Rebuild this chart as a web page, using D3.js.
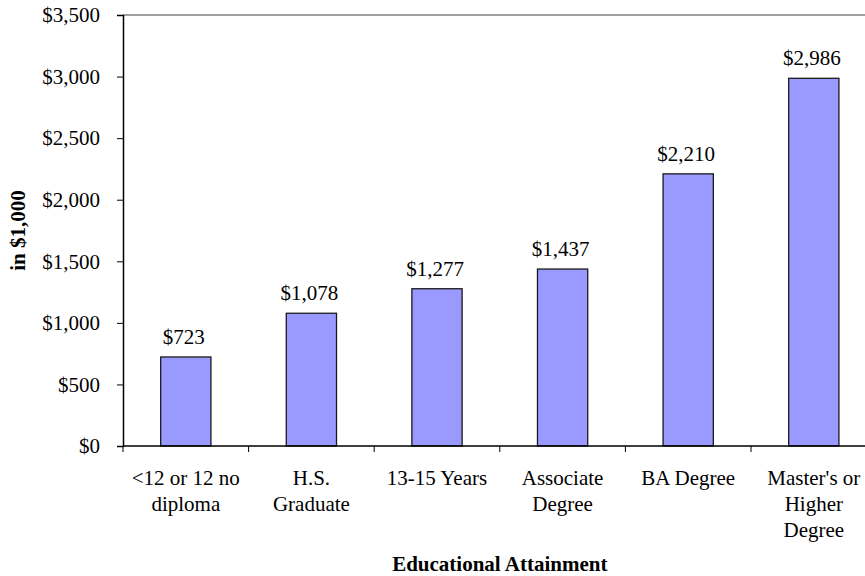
<!DOCTYPE html>
<html>
<head>
<meta charset="utf-8">
<script src="https://cdn.jsdelivr.net/npm/d3@7"></script>
<style>
  body { margin: 0; background: #fff; }
</style>
</head>
<body>
<svg id="chart" width="865" height="576" font-family="Liberation Serif"></svg>
<script>
// data
const categories = [
  ["<12 or 12 no", "diploma"],
  ["H.S.", "Graduate"],
  ["13-15 Years"],
  ["Associate", "Degree"],
  ["BA Degree"],
  ["Master's or", "Higher", "Degree"]
];
const values = [723, 1078, 1277, 1437, 2210, 2986];
const yTicks = [0, 500, 1000, 1500, 2000, 2500, 3000, 3500];

const FONT = "Liberation Serif";
const FS = 21;

const svg = d3.select("#chart");
const margin = { top: 15, left: 123, bottom: 130 };
const plotW = 753.6;
const plotH = 576 - margin.top - margin.bottom;

const fmt = v => "$" + d3.format(",")(v);

const x = d3.scaleBand()
    .domain(d3.range(values.length))
    .range([margin.left, margin.left + plotW])
    .paddingInner(0.6)
    .paddingOuter(0.3);

const y = d3.scaleLinear()
    .domain([0, 3500])
    .range([margin.top + plotH, margin.top]);

// top border of plot area
svg.append("line")
    .attr("x1", margin.left).attr("x2", margin.left + plotW)
    .attr("y1", y(3500)).attr("y2", y(3500))
    .attr("stroke", "#808080").attr("stroke-width", 1.5);

// bars
svg.selectAll("rect.bar")
    .data(values)
    .join("rect")
    .attr("class", "bar")
    .attr("x", (d, i) => x(i))
    .attr("y", d => y(d))
    .attr("width", x.bandwidth())
    .attr("height", d => y(0) - y(d))
    .attr("fill", "#9999ff")
    .attr("stroke", "#1a1a1a")
    .attr("stroke-width", 1.3);

// value labels
svg.selectAll("text.val")
    .data(values)
    .join("text")
    .attr("class", "val")
    .attr("x", (d, i) => x(i) + x.bandwidth() / 2 - 2)
    .attr("y", d => y(d) - 13)
    .attr("text-anchor", "middle")
    .attr("font-family", FONT)
    .attr("font-size", FS)
    .text(fmt);

// y axis
const yAxis = svg.append("g")
    .attr("transform", `translate(${margin.left},0)`)
    .call(d3.axisLeft(y).tickValues(yTicks).tickFormat(fmt).tickSize(6).tickPadding(17));
yAxis.attr("font-family", FONT).attr("font-size", FS);
yAxis.select(".domain").attr("stroke", "#000").attr("stroke-width", 1.5);
yAxis.selectAll(".tick line").attr("stroke", "#000");
yAxis.selectAll(".tick text")
    .attr("font-family", FONT)
    .attr("font-size", FS)
    .attr("fill", "#000");

// x axis line with ticks at category boundaries
const step = plotW / values.length;
svg.append("line")
    .attr("x1", margin.left).attr("x2", margin.left + plotW)
    .attr("y1", y(0)).attr("y2", y(0))
    .attr("stroke", "#000").attr("stroke-width", 1.5);
svg.selectAll("line.xtick")
    .data(d3.range(values.length + 1))
    .join("line")
    .attr("class", "xtick")
    .attr("x1", i => margin.left + i * step)
    .attr("x2", i => margin.left + i * step)
    .attr("y1", y(0)).attr("y2", y(0) + 6)
    .attr("stroke", "#000");

// category labels
const catG = svg.selectAll("text.cat")
    .data(categories)
    .join("text")
    .attr("class", "cat")
    .attr("text-anchor", "middle")
    .attr("font-family", FONT)
    .attr("font-size", FS);
catG.selectAll("tspan")
    .data((d, i) => d.map(s => ({ s, i })))
    .join("tspan")
    .attr("x", d => x(d.i) + x.bandwidth() / 2)
    .attr("y", (d, j) => y(0) + 38.5 + j * 26)
    .text(d => d.s);

// axis titles
svg.append("text")
    .attr("x", margin.left + plotW / 2).attr("y", 571)
    .attr("text-anchor", "middle")
    .attr("font-family", FONT)
    .attr("font-size", FS).attr("font-weight", "bold")
    .text("Educational Attainment");

svg.append("text")
    .attr("transform", `translate(25,${margin.top + plotH / 2}) rotate(-90)`)
    .attr("text-anchor", "middle")
    .attr("font-family", FONT)
    .attr("font-size", FS).attr("font-weight", "bold")
    .text("in $1,000");
</script>
</body>
</html>
